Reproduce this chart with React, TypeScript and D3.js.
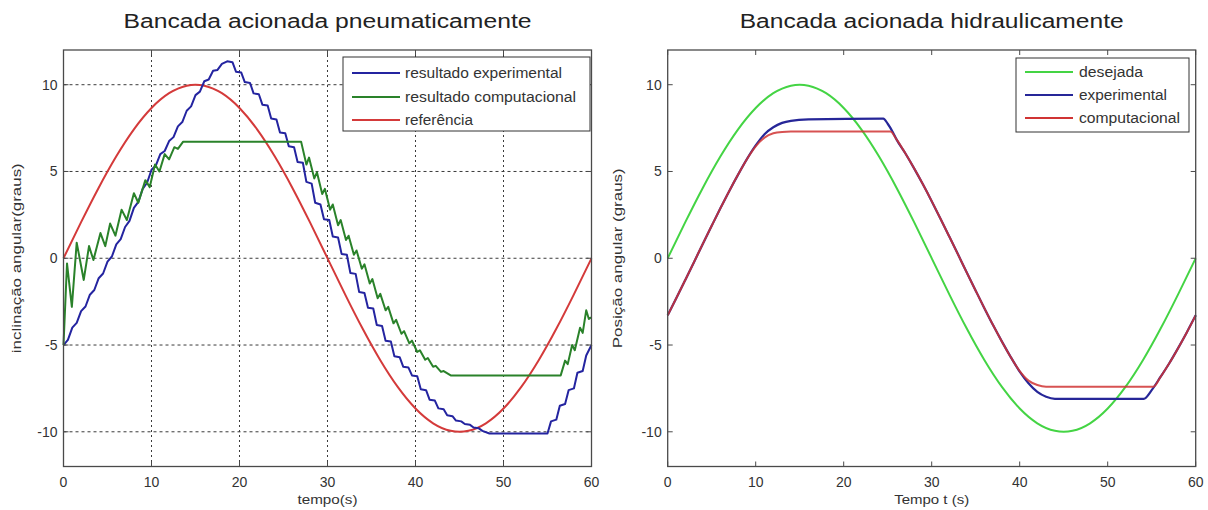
import React from "react";
import * as d3 from "d3";

const W = 1208;
const H = 510;

const xTicks = [0, 10, 20, 30, 40, 50, 60];
const yTicks = [-10, -5, 0, 5, 10];

// Left panel: reference sine (referência), every 2 s
const refTimes = [0, 2, 4, 6, 8, 10, 12, 14, 16, 18, 20, 22, 24, 26, 28, 30, 32, 34, 36, 38, 40, 42, 44, 46, 48, 50, 52, 54, 56, 58, 60];
const refValues = [0, 2.079, 4.067, 5.878, 7.431, 8.66, 9.511, 9.945, 9.945, 9.511, 8.66, 7.431, 5.878, 4.067, 2.079, 0, -2.079, -4.067, -5.878, -7.431, -8.66, -9.511, -9.945, -9.945, -9.511, -8.66, -7.431, -5.878, -4.067, -2.079, 0];

// Left panel: resultado experimental (staircase)
const leftExperimental: [number, number][] = [
  [0, -5.0], [0.5, -4.7], [1, -4.0], [1.5, -3.72], [2, -3.05], [2.5, -2.78], [3, -2.1], [3.5, -1.83],
  [4, -1.15], [4.5, -0.88], [5, -0.2], [5.5, 0.1], [6, 0.8], [6.5, 1.1], [7, 1.8], [7.5, 2.15],
  [8, 2.9], [8.5, 3.25], [9, 4.0], [9.5, 4.35], [10, 5.1], [10.5, 5.35], [11, 6.0], [11.5, 6.18],
  [12, 6.75], [12.5, 6.98], [13, 7.6], [13.5, 7.85], [14, 8.5], [14.5, 8.75], [15, 9.4], [15.5, 9.6],
  [16, 10.2], [16.5, 10.3], [17, 10.8], [17.5, 10.85], [18, 11.2], [18.6, 11.35],
  [19.2, 11.3], [19.6, 10.75], [20.2, 10.7], [20.6, 10.15], [21.2, 10.1], [21.6, 9.5], [22.2, 9.45],
  [22.6, 8.85], [23.2, 8.8], [23.6, 8.05], [24.2, 8.0], [24.6, 7.25], [25.2, 7.2], [25.6, 6.45],
  [26.2, 6.4], [26.6, 5.55], [27.2, 5.5], [27.6, 4.4], [28.2, 4.3], [28.6, 3.2], [29.2, 3.1],
  [29.6, 2.25], [30.2, 2.2], [30.6, 1.25], [31.2, 1.2], [31.6, 0.25], [32.2, 0.2], [32.6, -0.85],
  [33.2, -0.9], [33.6, -1.95], [34.2, -2.0], [34.6, -2.85], [35.2, -2.9], [35.6, -3.85], [36.2, -3.9],
  [36.6, -4.75], [37.2, -4.8], [37.6, -5.65], [38.2, -5.7], [38.6, -6.25], [39.2, -6.3], [39.6, -6.75],
  [40.2, -6.8], [40.6, -7.55], [41.2, -7.6], [41.6, -8.15], [42.2, -8.2], [42.6, -8.65], [43.2, -8.7],
  [43.6, -9.05], [44.2, -9.1], [44.6, -9.35], [45.2, -9.4], [45.6, -9.55], [46.2, -9.6], [46.6, -9.75],
  [47.2, -9.8], [47.6, -9.95], [48.4, -10.1], [55.0, -10.1],
  [55.4, -9.4], [56.0, -9.3], [56.4, -8.5], [57.0, -8.4], [57.4, -7.6], [58.0, -7.5], [58.4, -6.6],
  [59.0, -6.5], [59.4, -5.6], [60, -5.0],
];

// Left panel: resultado computacional (sawtooth)
const leftComputational: [number, number][] = [
  [0, -5.0], [0.4, -0.3], [0.95, -2.8], [1.5, 0.9], [2.3, -1.25], [2.9, 0.7], [3.4, -0.1], [4.2, 1.45],
  [4.75, 0.7], [5.3, 2.0], [5.9, 1.3], [6.6, 2.8], [7.2, 2.2], [8.0, 3.75], [8.5, 3.2], [9.3, 4.5],
  [9.8, 4.1], [10.4, 5.4], [10.9, 5.0], [11.5, 6.0], [12.0, 5.7], [12.6, 6.4], [13.0, 6.3], [13.6, 6.72],
  [27.0, 6.72], [27.6, 5.4], [27.9, 5.8], [28.5, 4.6], [28.8, 4.95], [29.4, 3.7], [29.7, 4.0], [30.3, 2.8],
  [30.6, 3.1], [31.2, 1.9], [31.5, 2.2], [32.1, 1.05], [32.4, 1.3], [33.0, 0.2], [33.3, 0.45], [33.9, -0.6],
  [34.2, -0.35], [34.8, -1.45], [35.1, -1.2], [35.7, -2.3], [36.0, -2.05], [36.6, -3.0], [36.9, -2.8],
  [37.5, -3.75], [37.8, -3.55], [38.4, -4.35], [38.7, -4.2], [39.3, -4.9], [39.6, -4.75], [40.2, -5.4],
  [40.5, -5.3], [41.1, -5.85], [41.4, -5.75], [42.0, -6.25], [42.3, -6.2], [42.9, -6.55], [43.2, -6.5],
  [44.0, -6.75], [56.5, -6.75], [57.0, -5.9], [57.3, -6.1], [57.8, -5.0], [58.1, -5.3], [58.7, -4.0],
  [59.0, -4.3], [59.4, -3.0], [59.7, -3.5], [60, -3.4],
];

// Right panel: desejada (every 2 s)
const desTimes = [0, 2, 4, 6, 8, 10, 12, 14, 16, 18, 20, 22, 24, 26, 28, 30, 32, 34, 36, 38, 40, 42, 44, 46, 48, 50, 52, 54, 56, 58, 60];
const desValues = [0, 2.079, 4.067, 5.878, 7.431, 8.66, 9.511, 9.945, 9.945, 9.511, 8.66, 7.431, 5.878, 4.067, 2.079, 0, -2.079, -4.067, -5.878, -7.431, -8.66, -9.511, -9.945, -9.945, -9.511, -8.66, -7.431, -5.878, -4.067, -2.079, 0];

// Right panel: experimental
const rightExperimental: [number, number][] = [
  [0, -3.29], [1, -2.28], [2, -1.25], [3, -0.21], [4, 0.84], [5, 1.87], [6, 2.89], [7, 3.88], [8, 4.82],
  [9, 5.71], [10, 6.5], [11, 7.15], [12, 7.55], [13, 7.8], [14, 7.92], [16, 8.0], [24.5, 8.05], [25, 7.75],
  [25.6, 7.25], [26, 6.85], [27, 6.05], [28, 5.18], [29, 4.26], [30, 3.29], [31, 2.28], [32, 1.25],
  [33, 0.21], [34, -0.84], [35, -1.87], [36, -2.89], [37, -3.88], [38, -4.82], [39, -5.71], [40, -6.53],
  [41, -7.2], [42, -7.7], [43, -7.98], [44, -8.1], [54.1, -8.1], [55, -7.6], [56, -6.84], [57, -6.05],
  [58, -5.18], [59, -4.26], [60, -3.29],
];

// Right panel: computacional
const rightComputational: [number, number][] = [
  [0, -3.29], [1, -2.28], [2, -1.25], [3, -0.21], [4, 0.84], [5, 1.87], [6, 2.89], [7, 3.88], [8, 4.82],
  [9, 5.71], [10, 6.45], [11, 6.95], [12, 7.2], [13, 7.28], [14, 7.3], [25.3, 7.3], [26, 6.85], [27, 6.05],
  [28, 5.18], [29, 4.26], [30, 3.29], [31, 2.28], [32, 1.25], [33, 0.21], [34, -0.84], [35, -1.87],
  [36, -2.89], [37, -3.88], [38, -4.82], [39, -5.71], [40, -6.5], [41, -7.05], [42, -7.3], [43, -7.4],
  [55.2, -7.4], [56, -6.84], [57, -6.05], [58, -5.18], [59, -4.26], [60, -3.29],
];

const leftLegendLabels = ["resultado experimental", "resultado computacional", "referência"];
const rightLegendLabels = ["desejada", "experimental", "computacional"];

const FONT = "'Liberation Sans', Arial, Helvetica, sans-serif";
const Y_TOP = 50;
const Y_BOT = 466.5;

type Series = {
  data: [number, number][];
  color: string;
  width: number;
  curve: d3.CurveFactory;
  opacity?: number;
};

type LegendSpec = {
  x0: number; x1: number; y0: number; y1: number;
  rows: number[]; lineX0: number; lineX1: number; textX: number;
  labels: string[]; textLens: number[]; colors: string[];
};

function Panel(props: {
  left: number; right: number; title: string; titleLen: number;
  xLabel: string; xLabelLen: number; yLabel: string; yLabelLen: number; yLabelX: number;
  grid: boolean; series: Series[]; legend: LegendSpec;
}) {
  const { left, right, title, titleLen, xLabel, xLabelLen, yLabel, yLabelLen, yLabelX, grid, series, legend } = props;
  const x = d3.scaleLinear().domain([0, 60]).range([left, right]);
  const y = d3.scaleLinear().domain([-12, 12]).range([Y_BOT, Y_TOP]);
  const cx = (left + right) / 2;
  const cy = (Y_TOP + Y_BOT) / 2;
  const tl = 5;
  const axisColor = "#4a4a4a";
  const textColor = "#333";
  return (
    <g>
      <rect x={left} y={Y_TOP} width={right - left} height={Y_BOT - Y_TOP} fill="#fff" />
      {grid && (
        <g stroke="#3a3a3a" strokeWidth={1}>
          {xTicks.slice(1, -1).map((t) => (
            <line key={"gx" + t} x1={x(t)} x2={x(t)} y1={Y_TOP} y2={Y_BOT} strokeDasharray="2,3" />
          ))}
          {yTicks.map((t) => (
            <line key={"gy" + t} x1={left} x2={right} y1={y(t)} y2={y(t)} strokeDasharray="3,3" />
          ))}
        </g>
      )}
      <g>
        {series.map((s, i) => {
          const line = d3
            .line<[number, number]>()
            .x((d) => x(d[0]))
            .y((d) => y(d[1]))
            .curve(s.curve);
          return (
            <path
              key={i}
              d={line(s.data) || ""}
              fill="none"
              stroke={s.color}
              strokeWidth={s.width}
              strokeOpacity={s.opacity ?? 1}
              strokeLinejoin="round"
            />
          );
        })}
      </g>
      <g stroke={axisColor} strokeWidth={1}>
        {xTicks.map((t) => (
          <g key={"tx" + t}>
            <line x1={x(t)} x2={x(t)} y1={Y_BOT} y2={Y_BOT - tl} />
            <line x1={x(t)} x2={x(t)} y1={Y_TOP} y2={Y_TOP + tl} />
          </g>
        ))}
        {yTicks.map((t) => (
          <g key={"ty" + t}>
            <line x1={left} x2={left + tl} y1={y(t)} y2={y(t)} />
            <line x1={right} x2={right - tl} y1={y(t)} y2={y(t)} />
          </g>
        ))}
      </g>
      <rect x={left} y={Y_TOP} width={right - left} height={Y_BOT - Y_TOP} fill="none" stroke={axisColor} strokeWidth={1.3} />
      <g fontFamily={FONT} fontSize={14} fill={textColor}>
        {xTicks.map((t) => (
          <text key={"lx" + t} x={x(t)} y={487} textAnchor="middle">{t}</text>
        ))}
        {yTicks.map((t) => (
          <text key={"ly" + t} x={left - 6} y={y(t) + 5} textAnchor="end">{t}</text>
        ))}
      </g>
      <text x={cx} y={28} textAnchor="middle" fontFamily={FONT} fontSize={20} fill="#222" textLength={titleLen} lengthAdjust="spacingAndGlyphs">{title}</text>
      <text x={cx} y={504} textAnchor="middle" fontFamily={FONT} fontSize={13} fill={textColor} textLength={xLabelLen} lengthAdjust="spacingAndGlyphs">{xLabel}</text>
      <text transform={`translate(${yLabelX},${cy}) rotate(-90)`} textAnchor="middle" fontFamily={FONT} fontSize={13} fill={textColor} textLength={yLabelLen} lengthAdjust="spacingAndGlyphs">{yLabel}</text>
      <rect x={legend.x0} y={legend.y0} width={legend.x1 - legend.x0} height={legend.y1 - legend.y0} fill="#fff" stroke="#333" strokeWidth={1} />
      {legend.labels.map((lab, i) => (
        <g key={"lg" + i}>
          <line x1={legend.lineX0} x2={legend.lineX1} y1={legend.rows[i]} y2={legend.rows[i]} stroke={legend.colors[i]} strokeWidth={2} />
          <text x={legend.textX} y={legend.rows[i] + 5} fontFamily={FONT} fontSize={14} fill="#333" textLength={legend.textLens[i]} lengthAdjust="spacingAndGlyphs">{lab}</text>
        </g>
      ))}
    </g>
  );
}

export default function App() {
  const refData: [number, number][] = refTimes.map((t, i) => [t, refValues[i]]);
  const desData: [number, number][] = desTimes.map((t, i) => [t, desValues[i]]);

  const cBlueL = "#2424a0";
  const cGreenL = "#2a822a";
  const cRedL = "#d43a3a";
  const cGreenR = "#44d444";
  const cBlueR = "#262698";
  const cRedR = "#d03434";

  return (
    <svg width={W} height={H} style={{ position: "absolute", left: 0, top: 0, background: "#fff" }}>
      <rect x={0} y={0} width={W} height={H} fill="#fff" />
      <Panel
        left={63.5}
        right={591.5}
        title="Bancada acionada pneumaticamente"
        titleLen={408}
        xLabel="tempo(s)"
        xLabelLen={60}
        yLabel="inclinação angular(graus)"
        yLabelLen={190}
        yLabelX={21}
        grid={true}
        series={[
          { data: refData, color: cRedL, width: 2, curve: d3.curveNatural },
          { data: leftExperimental, color: cBlueL, width: 2, curve: d3.curveLinear },
          { data: leftComputational, color: cGreenL, width: 2, curve: d3.curveLinear },
        ]}
        legend={{
          x0: 343, x1: 590, y0: 57, y1: 131,
          rows: [73, 97, 120], lineX0: 352, lineX1: 400, textX: 405,
          labels: leftLegendLabels, textLens: [157, 171, 68],
          colors: [cBlueL, cGreenL, cRedL],
        }}
      />
      <Panel
        left={667.7}
        right={1195.7}
        title="Bancada acionada hidraulicamente"
        titleLen={384}
        xLabel="Tempo t (s)"
        xLabelLen={75}
        yLabel="Posição angular (graus)"
        yLabelLen={180}
        yLabelX={622}
        grid={false}
        series={[
          { data: desData, color: cGreenR, width: 2, curve: d3.curveNatural },
          { data: rightExperimental, color: cBlueR, width: 2.2, curve: d3.curveMonotoneX },
          { data: rightComputational, color: cRedR, width: 2, curve: d3.curveMonotoneX, opacity: 0.85 },
        ]}
        legend={{
          x0: 1016, x1: 1189, y0: 58, y1: 132,
          rows: [72, 95, 118], lineX0: 1025, lineX1: 1073, textX: 1079,
          labels: rightLegendLabels, textLens: [64, 88, 101],
          colors: [cGreenR, cBlueR, cRedR],
        }}
      />
    </svg>
  );
}
